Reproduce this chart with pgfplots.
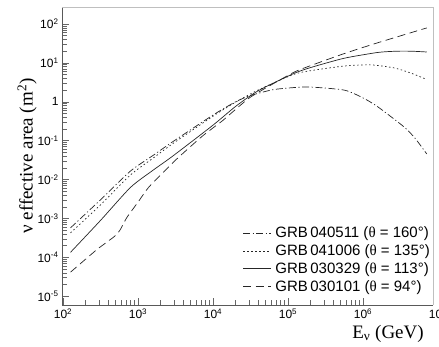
\documentclass[border=0pt]{standalone}
\usepackage{pgfplots}
\pgfplotsset{compat=1.18}
\usepackage{fontspec}
\setmainfont{Liberation Sans}
\newfontfamily\serif{Liberation Serif}
\newcommand\tickfont{\fontsize{12}{14}\selectfont}
\begin{document}
\begin{tikzpicture}
\begin{axis}[
  xmode=log, ymode=log,
  scale only axis, width=371pt, height=298pt,
  xmin=97, xmax=8.58e6, ymin=5.97e-6, ymax=274,
  axis lines*=left,
  axis line style={black!65, line width=0.6pt},
  tick align=inside,
  major tick length=7pt, minor tick length=4.5pt,
  every tick/.style={black!60, line width=0.5pt},
  xtick={1e2,1e3,1e4,1e5,1e6},
  xticklabels={10\textsuperscript{2},10\textsuperscript{3},10\textsuperscript{4},10\textsuperscript{5},10\textsuperscript{6}},
  ytick={1e-5,1e-4,1e-3,1e-2,1e-1,1,1e1,1e2},
  yticklabels={10\textsuperscript{-5},10\textsuperscript{-4},10\textsuperscript{-3},10\textsuperscript{-2},10\textsuperscript{-1},1,10\textsuperscript{1},10\textsuperscript{2}},
  ticklabel style={font=\tickfont},
  clip=false,
  ylabel={\serif ν effective area (m\textsuperscript{2})},
  ylabel style={at={(axis description cs:-0.094,0.5)}, anchor=center, font=\fontsize{19}{22}\selectfont},
  xlabel={\serif E\textsubscript{ν} (GeV)},
  xlabel style={at={(axis description cs:0.782,-0.111)}, anchor=base west, inner sep=0pt, font=\fontsize{19}{22}\selectfont},
  legend style={at={(axis description cs:1.003,0.03)}, anchor=south east, draw=none, fill=none,
    font=\fontsize{15}{17}\selectfont, row sep=3.5pt, nodes={inner sep=1pt},
    /tikz/every odd column/.append style={column sep=3pt}},
  legend cell align=left,
  legend image code/.code={\draw[#1] (0pt,0pt) -- (28pt,0pt);},
  every axis plot/.append style={line width=0.7pt, black!85},
]
% GRB 040511 (dash-dot)
\addplot[smooth, tension=0.4, dash pattern=on 7pt off 2.5pt on 1.2pt off 2.5pt] coordinates {
(126,5.75e-4) (316,3.02e-3) (794,1.66e-2) (1585,4.17e-2) (2884,9.33e-2) (1e4,0.457)
(2.0e4,1.0) (3.16e4,1.45) (6.31e4,2.05) (1.26e5,2.34) (2.0e5,2.40) (5.62e5,2.0)
(1e6,1.26) (1.58e6,0.74) (3.55e6,0.224) (5.01e6,0.112) (7.08e6,0.0457)};
% GRB 041006 (dotted)
\addplot[smooth, tension=0.4, dash pattern=on 1.5pt off 2.5pt] coordinates {
(126,4.27e-4) (316,2.24e-3) (794,1.32e-2) (1585,3.55e-2) (2884,8.32e-2) (1e4,0.427)
(2.0e4,0.977) (3.98e4,2.0) (1.17e5,5.01) (2.0e5,6.31) (5.62e5,8.32) (1.26e6,8.91)
(2.63e6,7.41) (4.47e6,5.37) (6.76e6,3.89)};
% GRB 030329 (solid)
\addplot[smooth, tension=0.4] coordinates {
(126,1.35e-4) (316,8.9e-4) (794,6.3e-3) (1585,1.74e-2) (2884,3.98e-2) (1e4,0.251)
(2.0e4,0.76) (3.98e4,1.91) (1.17e5,5.25) (2.0e5,7.59) (5.62e5,13.2) (1.58e6,18.6)
(2.82e6,20.0) (4.47e6,20.0) (7.08e6,19.1)};
% GRB 030101 (dashed)
\addplot[smooth, tension=0.3, dash pattern=on 8pt off 4.5pt] coordinates {
(126,4.17e-5) (282,1.58e-4) (479,3.39e-4) (575,5.01e-4) (708,1.05e-3) (1000,2.63e-3)
(1413,6.61e-3) (3162,3.16e-2) (7244,0.132) (1.35e4,0.331) (3.16e4,1.32) (1.17e5,5.62)
(2.0e5,8.51) (5.62e5,17.4) (1.58e6,33.1) (7.08e6,79.4)};
\legend{{GRB\,040511 ({\serif θ} = 160°)},{GRB\,041006 ({\serif θ} = 135°)},{GRB\,030329 ({\serif θ} = 113°)},{GRB\,030101 ({\serif θ} = 94°)}}
\draw[black!25, line width=0.6pt] (rel axis cs:0,1) -- (rel axis cs:1,1) -- (rel axis cs:1,0);
\node[font=\tickfont, anchor=north, inner sep=0.333em] at (axis cs:1e7,5.97e-6) {10\textsuperscript{7}};
\end{axis}
\pgfresetboundingbox
\path (current axis.south west) +(-62pt,-42pt) (current axis.north east) +(6pt,7pt);
\end{tikzpicture}
\end{document}
